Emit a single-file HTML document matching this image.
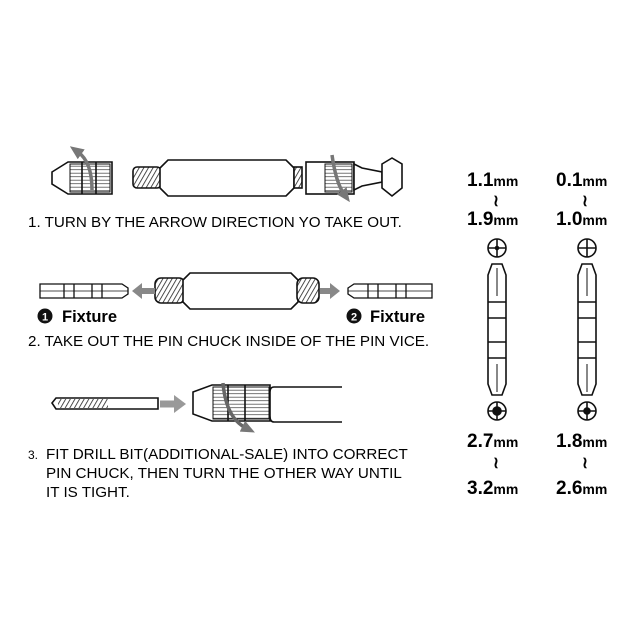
<!DOCTYPE html>
<html><head><style>
body{margin:0;background:#fff;width:640px;height:640px;overflow:hidden}
svg{display:block}
text{font-family:"Liberation Sans",Arial,sans-serif}
</style></head><body>
<svg width="640" height="640" viewBox="0 0 640 640">
<defs>
<pattern id="th" width="4" height="4" patternUnits="userSpaceOnUse" patternTransform="rotate(30)">
<rect width="4" height="4" fill="#fff"/><line x1="0" y1="0" x2="0" y2="4" stroke="#222" stroke-width="1.6"/></pattern>
<pattern id="kn" width="4" height="3.5" patternUnits="userSpaceOnUse"><rect width="4" height="3.5" fill="#fff"/><line x1="0" y1="1.7" x2="4" y2="1.7" stroke="#555" stroke-width="0.8"/></pattern>
<marker id="ah" markerUnits="userSpaceOnUse" markerWidth="14" markerHeight="12" refX="4" refY="6" orient="auto"><path d="M0,0 L14,6 L0,12z" fill="#777"/></marker>
</defs>
<g stroke="#111" stroke-width="1.6" fill="#fff">
<path d="M52,172 L68,162 L112,162 L112,194 L68,194 L52,184 Z"/>
<rect x="70" y="164" width="40" height="28" fill="url(#kn)" stroke-width="1"/>
<line x1="82" y1="162" x2="82" y2="194"/><line x1="96" y1="162" x2="96" y2="194"/>
<rect x="133" y="167" width="28" height="21" rx="4" fill="url(#th)"/>
<path d="M160,168 L168,160 L286,160 L294,168 L294,188 L286,196 L168,196 L160,188 Z"/>
<rect x="294" y="167" width="8" height="21" fill="url(#th)"/>
<rect x="306" y="162" width="48" height="32"/>
<rect x="325" y="164" width="27" height="28" fill="url(#kn)" stroke-width="1"/>
<path d="M354,164 L362,168 L382,172 L382,182 L362,186 L354,190 Z"/>
<path d="M382,164 L392,158 L402,164 L402,188 L392,196 L382,188 Z"/>
</g>
<path d="M92,190 Q92,162 78,152" stroke="#777" stroke-width="3.5" fill="none" marker-end="url(#ah)"/>
<path d="M332,155 Q336,183 344,194" stroke="#777" stroke-width="3.5" fill="none" marker-end="url(#ah)"/>
<text x="28" y="227" font-size="15.2">1. TURN BY THE ARROW DIRECTION YO TAKE OUT.</text>
<g stroke="#111" stroke-width="1.3" fill="#fff">
<path d="M40,284 L122,284 L128,288 L128,294 L122,298 L40,298 Z"/>
<line x1="40" y1="291" x2="128" y2="291" stroke-width="0.8"/>
<line x1="64" y1="284" x2="64" y2="298"/><line x1="74" y1="284" x2="74" y2="298"/><line x1="92" y1="284" x2="92" y2="298"/><line x1="102" y1="284" x2="102" y2="298"/>
<path d="M348,288 L354,284 L432,284 L432,298 L354,298 L348,294 Z"/>
<line x1="348" y1="291" x2="432" y2="291" stroke-width="0.8"/>
<line x1="368" y1="284" x2="368" y2="298"/><line x1="378" y1="284" x2="378" y2="298"/><line x1="396" y1="284" x2="396" y2="298"/><line x1="406" y1="284" x2="406" y2="298"/>
<rect x="155" y="278" width="30" height="25" rx="6" fill="url(#th)" stroke-width="1.6"/>
<path d="M183,280 L190,273 L291,273 L298,280 L298,302 L291,309 L190,309 L183,302 Z" stroke-width="1.6"/>
<rect x="297" y="278" width="22" height="25" rx="6" fill="url(#th)" stroke-width="1.6"/>
</g>
<path d="M155,291 L138,291" stroke="#888" stroke-width="6"/><path d="M132,291 L142,283 L142,299Z" fill="#888"/>
<path d="M320,291 L334,291" stroke="#888" stroke-width="6"/><path d="M340,291 L330,283 L330,299Z" fill="#888"/>
<circle cx="45" cy="316" r="7.5" fill="#111"/><text x="45" y="320.5" font-size="11" font-weight="bold" fill="#fff" text-anchor="middle">1</text>
<text x="62" y="322" font-size="16.5" font-weight="bold" font-family="DejaVu Sans">Fixture</text>
<circle cx="354" cy="316" r="7.5" fill="#111"/><text x="354" y="320.5" font-size="11" font-weight="bold" fill="#fff" text-anchor="middle">2</text>
<text x="370" y="322" font-size="16.5" font-weight="bold" font-family="DejaVu Sans">Fixture</text>
<text x="28" y="346" font-size="15.2">2. TAKE OUT THE PIN CHUCK INSIDE OF THE PIN VICE.</text>
<g stroke="#111" stroke-width="1.6" fill="#fff">
<path d="M52,403 L56,398 L158,398 L158,409 L56,409 Z"/>
<rect x="58" y="399" width="50" height="9" fill="url(#th)" stroke="none"/>
<path d="M193,392 L212,385 L270,385 L270,421 L212,421 L193,414 Z"/>
<rect x="213" y="387" width="56" height="32" fill="url(#kn)" stroke-width="1"/>
<line x1="228" y1="385" x2="228" y2="421"/><line x1="245" y1="385" x2="245" y2="421"/>
<path d="M342,387 L274,387 Q270,387 270,392 L270,416 Q270,422 274,422 L342,422" fill="#fff"/>
</g>
<path d="M160,404 L176,404" stroke="#999" stroke-width="7"/><path d="M186,404 L174,395 L174,413Z" fill="#999"/>
<path d="M223,383 Q226,418 246,428" stroke="#666" stroke-width="3.5" fill="none" marker-end="url(#ah)"/>
<g font-size="15.2"><text x="28" y="459" font-size="12">3.</text><text x="46" y="459">FIT DRILL BIT(ADDITIONAL-SALE) INTO CORRECT</text>
<text x="46" y="478">PIN CHUCK, THEN TURN THE OTHER WAY UNTIL</text><text x="46" y="497">IT IS TIGHT.</text></g>
<g font-weight="bold" font-size="19">
<text x="467" y="186">1.1<tspan font-size="14">mm</tspan></text>
<text x="493" y="206" font-size="16" font-family="DejaVu Sans">≀</text>
<text x="467" y="225">1.9<tspan font-size="14">mm</tspan></text>
<text x="556" y="186">0.1<tspan font-size="14">mm</tspan></text>
<text x="582" y="206" font-size="16" font-family="DejaVu Sans">≀</text>
<text x="556" y="225">1.0<tspan font-size="14">mm</tspan></text>
<text x="467" y="447">2.7<tspan font-size="14">mm</tspan></text>
<text x="493" y="468" font-size="16" font-family="DejaVu Sans">≀</text>
<text x="467" y="494">3.2<tspan font-size="14">mm</tspan></text>
<text x="556" y="447">1.8<tspan font-size="14">mm</tspan></text>
<text x="582" y="468" font-size="16" font-family="DejaVu Sans">≀</text>
<text x="556" y="494">2.6<tspan font-size="14">mm</tspan></text>
</g>
<g stroke="#111" stroke-width="1.6" fill="#fff">
<circle cx="497" cy="248" r="9"/><line x1="488" y1="248" x2="506" y2="248"/><line x1="497" y1="239" x2="497" y2="257"/><circle cx="497" cy="248" r="1.5" fill="#111"/>
<circle cx="587" cy="248" r="9"/><line x1="578" y1="248" x2="596" y2="248"/><line x1="587" y1="239" x2="587" y2="257"/>
<circle cx="497" cy="411" r="9"/><line x1="488" y1="411" x2="506" y2="411"/><line x1="497" y1="402" x2="497" y2="420"/><circle cx="497" cy="411" r="4" fill="#111"/>
<circle cx="587" cy="411" r="9"/><line x1="578" y1="411" x2="596" y2="411"/><line x1="587" y1="402" x2="587" y2="420"/><circle cx="587" cy="411" r="3" fill="#111"/>
<path d="M488,275 L492,264 L502,264 L506,275 L506,384 L502,395 L492,395 L488,384 Z"/>
<line x1="488" y1="302" x2="506" y2="302"/><line x1="488" y1="318" x2="506" y2="318"/><line x1="488" y1="342" x2="506" y2="342"/><line x1="488" y1="358" x2="506" y2="358"/>
<line x1="497" y1="268" x2="497" y2="296" stroke-width="1"/><line x1="497" y1="364" x2="497" y2="392" stroke-width="1"/>
<path d="M578,275 L582,264 L592,264 L596,275 L596,384 L592,395 L582,395 L578,384 Z"/>
<line x1="578" y1="302" x2="596" y2="302"/><line x1="578" y1="318" x2="596" y2="318"/><line x1="578" y1="342" x2="596" y2="342"/><line x1="578" y1="358" x2="596" y2="358"/>
<line x1="587" y1="268" x2="587" y2="296" stroke-width="1"/><line x1="587" y1="364" x2="587" y2="392" stroke-width="1"/>
</g>
</svg>
</body></html>
